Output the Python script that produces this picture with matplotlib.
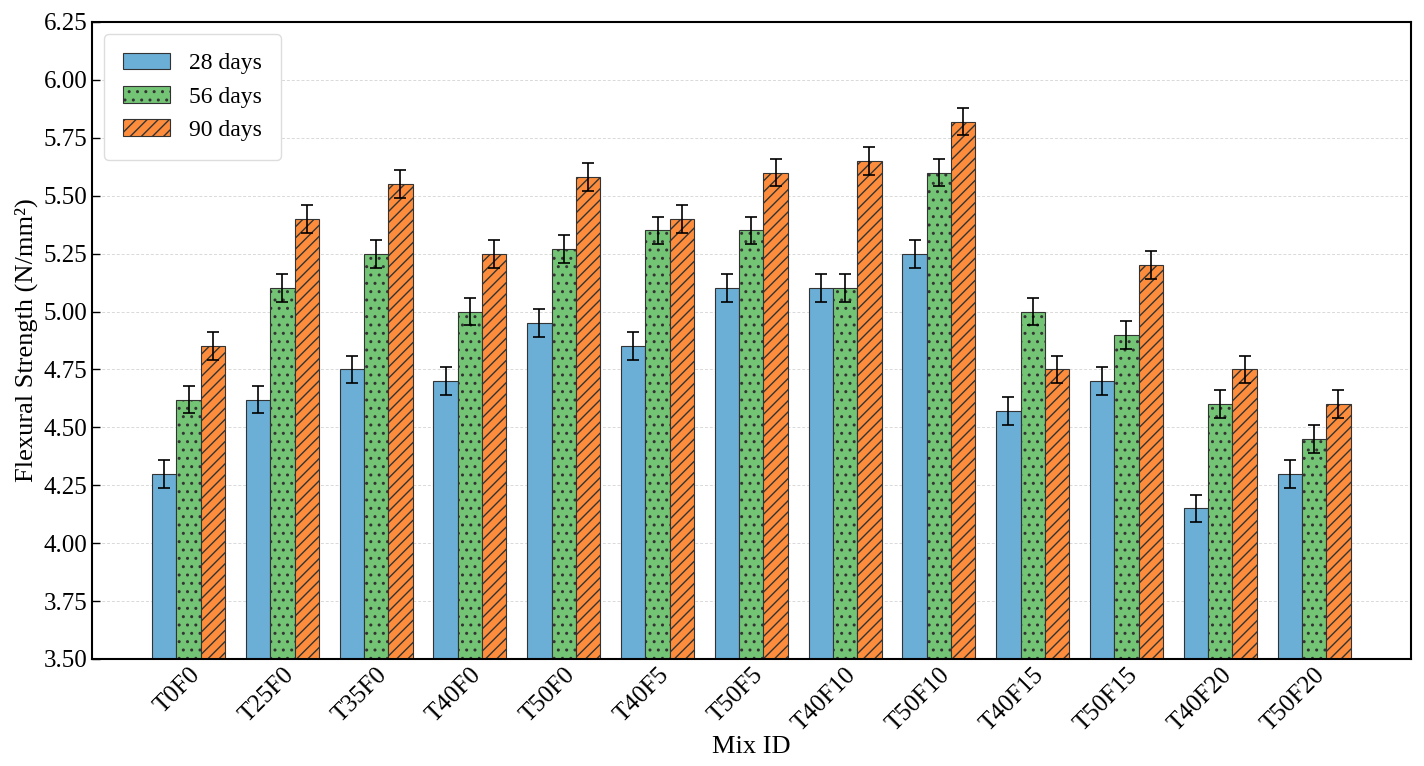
import numpy as np
import matplotlib
matplotlib.use("Agg")
import matplotlib.pyplot as plt

plt.rcParams["font.family"] = ["Liberation Serif", "DejaVu Serif"]
plt.rcParams["hatch.linewidth"] = 1.0

mixes = ["T0F0", "T25F0", "T35F0", "T40F0", "T50F0", "T40F5", "T50F5",
         "T40F10", "T50F10", "T40F15", "T50F15", "T40F20", "T50F20"]
d28 = [4.30, 4.62, 4.75, 4.70, 4.95, 4.85, 5.10, 5.10, 5.25, 4.57, 4.70, 4.15, 4.30]
d56 = [4.62, 5.10, 5.25, 5.00, 5.27, 5.35, 5.35, 5.10, 5.60, 5.00, 4.90, 4.60, 4.45]
d90 = [4.85, 5.40, 5.55, 5.25, 5.58, 5.40, 5.60, 5.65, 5.82, 4.75, 5.20, 4.75, 4.60]
err = 0.06

series = [
    ("28 days", d28, "#6baed6", ""),
    ("56 days", d56, "#74c476", ".."),
    ("90 days", d90, "#fd8d3c", "///"),
]

fig = plt.figure(figsize=(14.24, 7.66), dpi=100)
ax = fig.add_axes([0.0646, 0.1397, 0.926, 0.8316])

x = np.arange(len(mixes))
w = 0.26
for k, (lab, vals, col, hatch) in enumerate(series):
    ax.bar(x + (k - 1) * w, vals, w, color=col, edgecolor="#333333", linewidth=0.8,
           hatch=hatch, label=lab, zorder=2,
           yerr=err, capsize=4, error_kw=dict(ecolor="black", elinewidth=1.2, capthick=1.2))

ax.set_ylim(3.5, 6.25)
ax.set_yticks(np.arange(3.5, 6.26, 0.25))
ax.set_yticklabels([f"{v:.2f}" for v in np.arange(3.5, 6.26, 0.25)])
ax.set_xticks(x)
ax.set_xticklabels(mixes, rotation=45, ha="right", rotation_mode="anchor")
ax.tick_params(direction="in", labelsize=18, length=6, width=1)
ax.set_xlabel("Mix ID", fontsize=19, labelpad=0)
ax.set_ylabel("Flexural Strength (N/mm²)", fontsize=19)
ax.yaxis.grid(True, linestyle=(0, (3, 2)), color="#d9d9d9", linewidth=0.7)
ax.set_axisbelow(True)
for s in ax.spines.values():
    s.set_linewidth(1.5)
ax.legend(loc="upper left", fontsize=17, frameon=True, framealpha=1,
          edgecolor="#dddddd", borderpad=0.8, handlelength=2.0, labelspacing=0.5,
          handletextpad=0.8)

fig.savefig("out.png", dpi=100)
